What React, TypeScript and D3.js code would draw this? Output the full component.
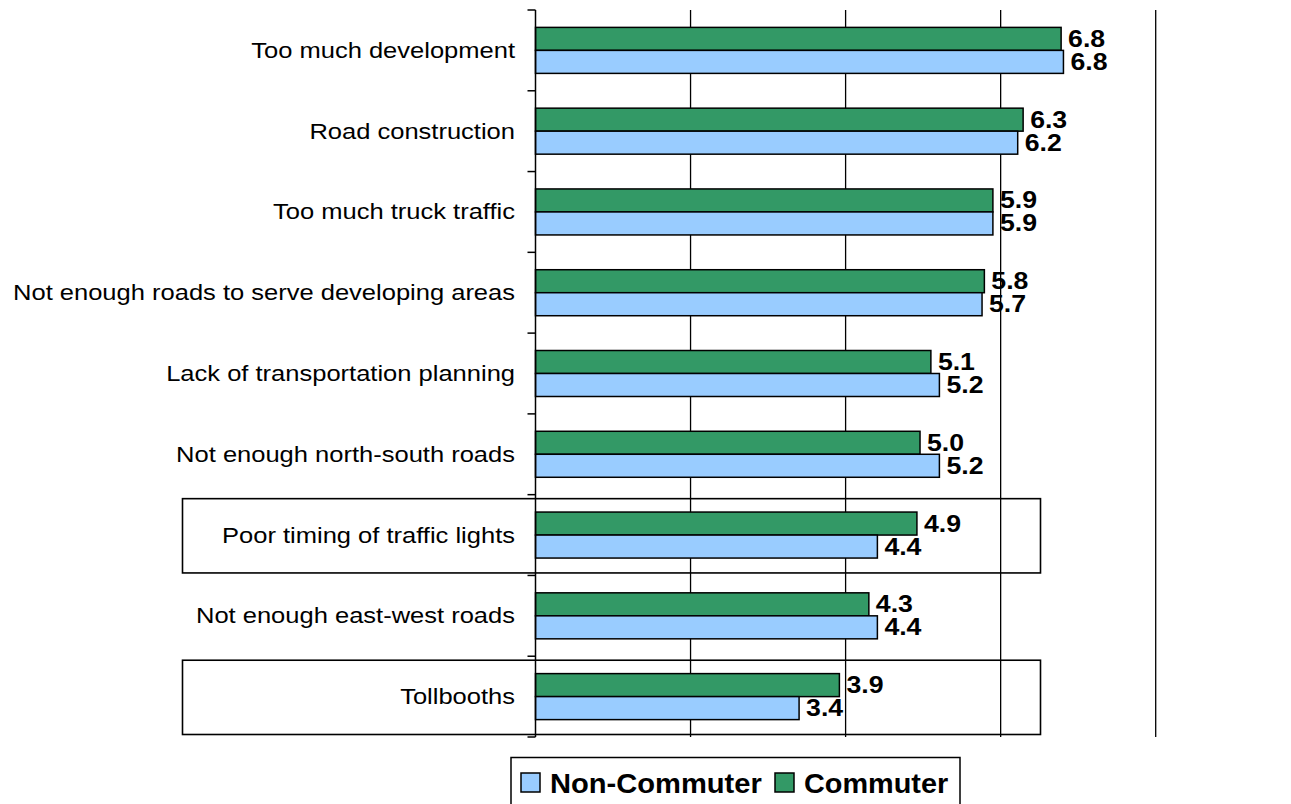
import React from "react";
import * as d3 from "d3";

const categories = [
  "Too much development",
  "Road construction",
  "Too much truck traffic",
  "Not enough roads to serve developing areas",
  "Lack of transportation planning",
  "Not enough north-south roads",
  "Poor timing of traffic lights",
  "Not enough east-west roads",
  "Tollbooths",
];
const commuter = [6.78, 6.29, 5.9, 5.79, 5.1, 4.96, 4.92, 4.3, 3.92];
const nonCommuter = [6.81, 6.22, 5.9, 5.76, 5.21, 5.21, 4.41, 4.41, 3.4];
const labelsCommuter = ["6.8", "6.3", "5.9", "5.8", "5.1", "5.0", "4.9", "4.3", "3.9"];
const labelsNonCommuter = ["6.8", "6.2", "5.9", "5.7", "5.2", "5.2", "4.4", "4.4", "3.4"];
const highlighted = ["Poor timing of traffic lights", "Tollbooths"];
const gridTicks = [2, 4, 6, 8];
const seriesNames = ["Commuter", "Non-Commuter"];

const GREEN = "#339966";
const BLUE = "#99CCFF";
const FONT = "'Liberation Sans', Arial, sans-serif";
const SX = 1.16;

export default function App() {
  const W = 1291, H = 804;
  const x = d3.scaleLinear().domain([0, 8]).range([535.5, 1155.7]);
  const y = d3.scaleBand().domain(categories).range([10, 737]).padding(0);
  const bw = y.bandwidth();
  const sub = d3.scaleBand().domain(seriesNames).range([bw / 2 - 23, bw / 2 + 23]).padding(0);
  const vals: Record<string, number[]> = { Commuter: commuter, "Non-Commuter": nonCommuter };
  const labs: Record<string, string[]> = { Commuter: labelsCommuter, "Non-Commuter": labelsNonCommuter };
  const col: Record<string, string> = { Commuter: GREEN, "Non-Commuter": BLUE };
  const boundaries = d3.range(categories.length + 1).map((i) => 10 + i * bw);

  return (
    <svg width={W} height={H} style={{ position: "absolute", left: 0, top: 0, background: "#fff" }}>
      <rect x={0} y={0} width={W} height={H} fill="#fff" />
      {/* gridlines */}
      {gridTicks.map((t) => (
        <line key={t} x1={x(t)} x2={x(t)} y1={10} y2={737} stroke="#000" strokeWidth={1.3} />
      ))}
      {/* highlight boxes */}
      {highlighted.map((c) => (
        <rect key={c} x={182.5} y={(y(c) as number) + 4} width={1040.5 - 182.5} height={bw - 6.5}
          fill="none" stroke="#000" strokeWidth={1.6} />
      ))}
      {/* bars */}
      {categories.map((c, i) =>
        seriesNames.map((s) => {
          const by = (y(c) as number) + (sub(s) as number);
          const v = vals[s][i];
          return (
            <g key={c + s}>
              <rect x={x(0)} y={by} width={x(v) - x(0)} height={sub.bandwidth()} fill={col[s]}
                stroke="#000" strokeWidth={1.5} />
              <text transform={`translate(${x(v) + 7},${by + sub.bandwidth() / 2 + 8}) scale(${SX},1)`}
                fontFamily={FONT} fontWeight="bold" fontSize={23} fill="#000">{labs[s][i]}</text>
            </g>
          );
        })
      )}
      {/* axis */}
      <line x1={x(0)} x2={x(0)} y1={10} y2={737} stroke="#000" strokeWidth={1.5} />
      {boundaries.map((b, i) => (
        <line key={i} x1={x(0) - 8} x2={x(0)} y1={b} y2={b} stroke="#000" strokeWidth={1.5} />
      ))}
      {/* category labels */}
      {categories.map((c) => (
        <text key={c} transform={`translate(515,${(y(c) as number) + bw / 2 + 7.5}) scale(${SX},1)`}
          textAnchor="end" fontFamily={FONT} fontSize={22} fill="#000">{c}</text>
      ))}
      {/* legend */}
      <rect x={511} y={757.5} width={449} height={60} fill="#fff" stroke="#000" strokeWidth={1.5} />
      <rect x={521} y={773} width={19} height={19} fill={BLUE} stroke="#000" strokeWidth={1.5} />
      <text transform="translate(550,793) scale(1.04,1)" fontFamily={FONT} fontWeight="bold" fontSize={28} fill="#000">Non-Commuter</text>
      <rect x={775} y={773} width={19} height={19} fill={GREEN} stroke="#000" strokeWidth={1.5} />
      <text transform="translate(804,793) scale(1.03,1)" fontFamily={FONT} fontWeight="bold" fontSize={28} fill="#000">Commuter</text>
    </svg>
  );
}
